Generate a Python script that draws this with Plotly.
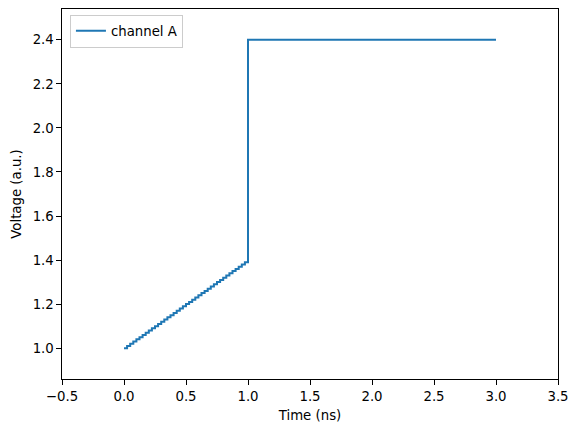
import plotly.graph_objects as go

time_ns = [0.000, 0.025, 0.050, 0.075, 0.100, 0.125, 0.150, 0.175, 0.200, 0.225,
           0.250, 0.275, 0.300, 0.325, 0.350, 0.375, 0.400, 0.425, 0.450, 0.475,
           0.500, 0.525, 0.550, 0.575, 0.600, 0.625, 0.650, 0.675, 0.700, 0.725,
           0.750, 0.775, 0.800, 0.825, 0.850, 0.875, 0.900, 0.925, 0.950, 0.975,
           1.000, 1.000, 3.000]
voltage = [1.000, 1.010, 1.020, 1.030, 1.040, 1.050, 1.060, 1.070, 1.080, 1.090,
           1.100, 1.110, 1.120, 1.130, 1.140, 1.150, 1.160, 1.170, 1.180, 1.190,
           1.200, 1.210, 1.220, 1.230, 1.240, 1.250, 1.260, 1.270, 1.280, 1.290,
           1.300, 1.310, 1.320, 1.330, 1.340, 1.350, 1.360, 1.370, 1.380, 1.390,
           1.400, 2.400, 2.400]

x_ticks = [-0.5, 0.0, 0.5, 1.0, 1.5, 2.0, 2.5, 3.0, 3.5]
y_ticks = [1.0, 1.2, 1.4, 1.6, 1.8, 2.0, 2.2, 2.4]

font = dict(family="DejaVu Sans", size=13.3, color="black")

fig = go.Figure()
fig.add_trace(go.Scatter(
    x=time_ns, y=voltage, mode="lines", name="channel A",
    line=dict(color="#1f77b4", width=2, shape="hv"),
))

axis_common = dict(
    showgrid=False, zeroline=False, showline=True, linecolor="black",
    linewidth=1.1, mirror=True, ticks="outside", ticklen=4.5, tickwidth=1.1,
    tickcolor="black", tickfont=font, tickformat=".1f",
)

fig.update_layout(
    width=578, height=432, autosize=False,
    margin=dict(l=61.5, r=20.3, t=9.3, b=52.7, pad=0),
    plot_bgcolor="white", paper_bgcolor="white",
    font=font,
    showlegend=True,
    legend=dict(
        x=0.016, y=0.985, xanchor="left", yanchor="top",
        bgcolor="rgba(255,255,255,0.8)", bordercolor="#cccccc", borderwidth=1,
        font=font, itemwidth=30, tracegroupgap=0,
    ),
    xaxis=dict(axis_common, range=[-0.5, 3.5], tickvals=x_ticks,
               title=dict(text="Time (ns)", font=font, standoff=8)),
    yaxis=dict(axis_common, range=[0.86, 2.54], tickvals=y_ticks,
               title=dict(text="Voltage (a.u.)", font=font, standoff=7)),
)

fig.write_html("out.html", config={"displayModeBar": False},
               post_script="document.body.style.margin='0';document.body.style.overflow='hidden';")
